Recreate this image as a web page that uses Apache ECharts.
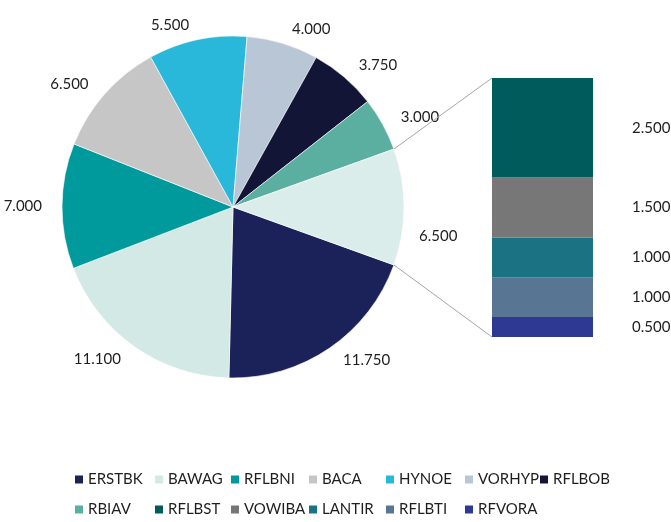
<!DOCTYPE html>
<html><head><meta charset="utf-8">
<script src="https://cdn.jsdelivr.net/npm/echarts@6/dist/echarts.min.js"></script>
<style>html,body{margin:0;padding:0;background:#fff}#c{width:671px;height:522px}</style>
</head><body><div id="c"></div>
<script>
// ---- data ----
const pieNames = ['ERSTBK','BAWAG','RFLBNI','BACA','HYNOE','VORHYP','RFLBOB','RBIAV','Other'];
const pieValues = [11.75, 11.1, 7, 6.5, 5.5, 4, 3.75, 3, 6.5];
const barNames = ['RFLBST','VOWIBA','LANTIR','RFLBTI','RFVORA'];
const barValues = [2.5, 1.5, 1, 1, 0.5];
const legendRow1 = ['ERSTBK','BAWAG','RFLBNI','BACA','HYNOE','VORHYP','RFLBOB'];
const legendRow2 = ['RBIAV','RFLBST','VOWIBA','LANTIR','RFLBTI','RFVORA'];

// ---- style / layout ----
const pieColors = ['#1b2259','#d3e9e6','#00999c','#c6c6c6','#29b8da','#b8c6d6','#121535','#5bafa0','#dbedeb'];
const barColors = ['#005c5c','#777777','#1b7283','#587593','#2e3993'];
const FONT = 'Lato';
const FS = 15;
const TXT = '#1e1e1e';
const PIE_C = [233, 207], PIE_R = 171, START = -19.8;
const GRID = {left: 492, top: 78, width: 101, height: 259};
const LEG_COLS = [75, 155, 231, 309, 386, 465, 540];
const LEG_ROWS = [472, 502];

const chart = echarts.init(document.getElementById('c'), null, {renderer: 'canvas'});
const fmt = v => v.toFixed(3);
const barTotal = barValues.reduce((a, b) => a + b, 0);

const series = [{
  type: 'pie',
  center: PIE_C,
  radius: PIE_R,
  startAngle: START,
  clockwise: true,
  avoidLabelOverlap: false,
  silent: true,
  data: pieNames.map((n, i) => ({name: n, value: pieValues[i], itemStyle: {color: pieColors[i]}})),
  itemStyle: {borderColor: '#ffffff', borderWidth: 0.6},
  label: {show: true, position: 'outside', formatter: p => fmt(p.value), color: TXT, fontFamily: FONT, fontSize: FS},
  labelLine: {show: false, length: 15, length2: 0},
  labelLayout: p => (p.dataIndex === pieNames.length - 1 ? {dx: -5, dy: 29} : {})
}];
// stacked bar: bottom first
for (let i = barNames.length - 1; i >= 0; i--) {
  series.push({
    type: 'bar', name: barNames[i], stack: 'other', barWidth: '100%', silent: true,
    data: [barValues[i]],
    itemStyle: {color: barColors[i]},
    label: {show: true, position: 'right', distance: 39, formatter: p => fmt(p.value), color: TXT, fontFamily: FONT, fontSize: FS}
  });
}

const legends = [];
[legendRow1, legendRow2].forEach((row, r) => row.forEach((name, c) => {
  legends.push({
    orient: 'horizontal', left: LEG_COLS[c], top: LEG_ROWS[r], padding: 0,
    itemWidth: 8, itemHeight: 8, icon: 'rect', selectedMode: false,
    itemStyle: {borderWidth: 0},
    textStyle: {color: TXT, fontFamily: FONT, fontSize: FS},
    data: [name]
  });
}));

// connector lines from "Other" slice edges to the bar's left corners
const pieTotal = pieValues.reduce((a, b) => a + b, 0);
const otherVal = pieValues[pieValues.length - 1];
const aUpper = (START - (pieTotal - otherVal) / pieTotal * 360) * Math.PI / 180;
const aLower = (START - 360) * Math.PI / 180;
const pt = a => [PIE_C[0] + PIE_R * Math.cos(a), PIE_C[1] - PIE_R * Math.sin(a)];
const pU = pt(aUpper), pL = pt(aLower);
const yTop = GRID.top, yBot = GRID.top + GRID.height, xL = GRID.left;

chart.setOption({
  animation: false,
  backgroundColor: '#ffffff',
  color: pieColors,
  grid: Object.assign({}, GRID),
  xAxis: {type: 'category', data: ['Other'], show: false},
  yAxis: {type: 'value', min: 0, max: barTotal, show: false},
  legend: legends,
  graphic: [
    {type: 'line', shape: {x1: pU[0], y1: pU[1], x2: xL, y2: yTop}, style: {stroke: '#a6a6a6', lineWidth: 1}, z: 10},
    {type: 'line', shape: {x1: pL[0], y1: pL[1], x2: xL, y2: yBot}, style: {stroke: '#a6a6a6', lineWidth: 1}, z: 10}
  ],
  series: series
});
</script>
</body></html>
